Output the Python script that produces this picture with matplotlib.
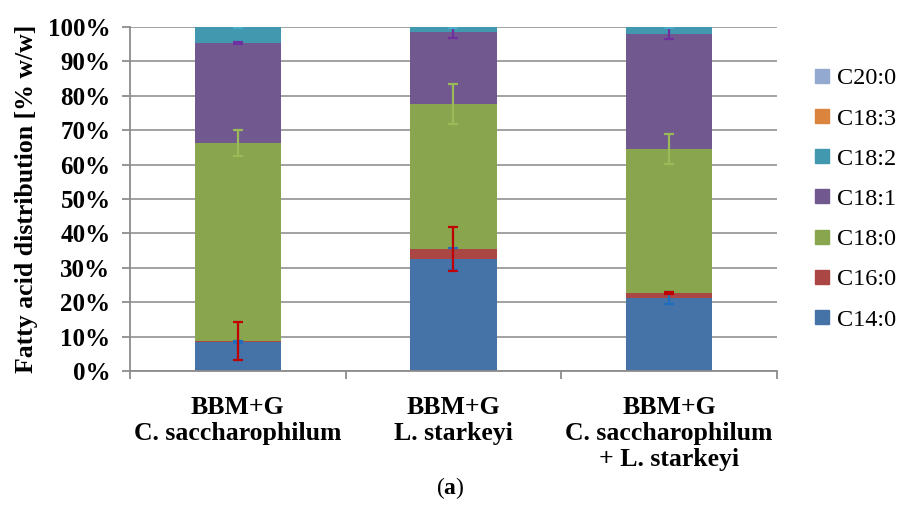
import numpy as np
import matplotlib
matplotlib.use("Agg")
import matplotlib.pyplot as plt
from matplotlib.ticker import PercentFormatter
from matplotlib.lines import Line2D

plt.rcParams['font.family'] = ['Liberation Serif', 'DejaVu Serif']
plt.rcParams['mathtext.fontset'] = 'custom'
plt.rcParams['mathtext.rm'] = 'Liberation Serif'
plt.rcParams['mathtext.bf'] = 'Liberation Serif:bold'

## data
groups = ["BBM+G\nC. saccharophilum", "BBM+G\nL. starkeyi",
          "BBM+G\nC. saccharophilum\n+ L. starkeyi"]
acids = ["C14:0", "C16:0", "C18:0", "C18:1", "C18:2", "C18:3", "C20:0"]

# % w/w, one list per fatty acid (in group order)
c14_0 = [8.4, 32.6, 21.2]
c16_0 = [0.3, 2.9, 1.5]
c18_0 = [57.6, 42.1, 41.8]
c18_1 = [29.0, 20.9, 33.5]
c18_2 = [4.7, 1.5, 2.0]
c18_3 = [0.0, 0.0, 0.0]
c20_0 = [0.0, 0.0, 0.0]

# standard deviations
c14_0_sd = [0.3, 3.1, 1.7]
c16_0_sd = [5.4, 6.5, 0.3]
c18_0_sd = [3.9, 5.7, 4.3]
c18_1_sd = [0.2, 1.7, 1.6]
c18_2_sd = [0.4, 0.3, 0.3]
c18_3_sd = [0.0, 0.0, 0.0]
c20_0_sd = [0.0, 0.0, 0.0]

values = [c14_0, c16_0, c18_0, c18_1, c18_2, c18_3, c20_0]
errors = [c14_0_sd, c16_0_sd, c18_0_sd, c18_1_sd, c18_2_sd, c18_3_sd, c20_0_sd]

bar_colors = ["#4572A7", "#AA4643", "#89A54E", "#71588F", "#4198AF", "#DB843D", "#93A9CF"]
err_colors = ["#1F6FC0", "#C00000", "#9BBB59", "#7030A0", "#4BACC6", "#F79646", "#95B3D7"]

## plot
fig = plt.figure(figsize=(9, 5.17), dpi=100)
ax = fig.add_axes([0.1444, 0.2824, 0.7189, 0.6654])

x = np.arange(len(groups))
bottom = np.zeros(len(groups))
tops = []
for vals, col in zip(values, bar_colors):
    vals = np.array(vals)
    ax.bar(x, vals, 0.4, bottom=bottom, color=col, zorder=2)
    bottom = bottom + vals
    tops.append(bottom.copy())

# error bars at the top of each segment
for top, err, vals, col in zip(tops, errors, values, err_colors):
    if max(vals) == 0:
        continue
    ax.errorbar(x, top, yerr=err, fmt='none', ecolor=col, elinewidth=1.6,
                capsize=3.5, capthick=1.6, zorder=5)

ax.set_xlim(-0.5, 2.5)
ax.set_ylim(0, 100)
ax.set_yticks(np.arange(0, 101, 10))
ax.yaxis.set_major_formatter(PercentFormatter(decimals=0))
ax.grid(axis='y', color='#9a9a9a', linewidth=1.3, zorder=0)
ax.set_axisbelow(True)

for s in ['top', 'right']:
    ax.spines[s].set_visible(False)
for s in ['left', 'bottom']:
    ax.spines[s].set_color('#8c8c8c')
    ax.spines[s].set_linewidth(1.3)

ax.set_xticks(x)
ax.set_xticklabels(groups, fontweight='bold', fontsize=18.5, linespacing=1.17)
ax.tick_params(axis='x', length=0, pad=18)
ax.set_xticks([-0.5, 0.5, 1.5, 2.5], minor=True)
ax.tick_params(axis='x', which='minor', length=6, color='#8c8c8c', width=1.3)
ax.tick_params(axis='y', length=6, color='#8c8c8c', width=1.3, labelsize=18, pad=8)
for lab in ax.get_yticklabels():
    lab.set_fontweight('bold')

ax.set_ylabel("Fatty acid distribution [% w/w]", fontweight='bold', fontsize=18.5, labelpad=7)

handles = [Line2D([], [], marker='s', linestyle='none', markersize=10,
                  markerfacecolor=c, markeredgecolor=c) for c in bar_colors]
ax.legend(handles[::-1], acids[::-1], loc='center left', bbox_to_anchor=(1.0, 0.5),
          frameon=False, fontsize=17.5, labelspacing=0.75, handletextpad=0.15,
          borderaxespad=1.0, handlelength=0.9)

fig.text(0.5, 0.056, r"($\mathbf{a}$)", ha='center', va='center', fontsize=17)

fig.savefig("out.png", dpi=100)
